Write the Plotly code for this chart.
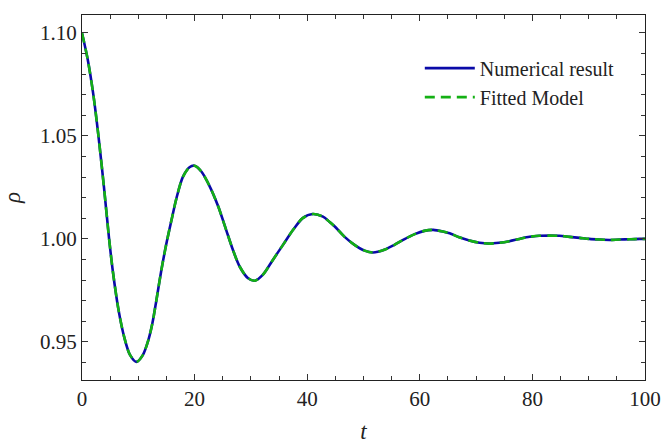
import plotly.graph_objects as go

# time values
t_vals = [0, 1.0, 2.0, 2.9, 3.9, 4.8, 5.5, 6.5, 7.5, 8.5, 9.65,
          10.8, 11.8, 12.5, 13.2, 14.1, 15.0, 15.9, 16.8, 17.9, 19.1, 20.0, 21.2, 22.7,
          24.2, 25.6, 26.8, 28.0, 29.5, 30.7, 32.1, 33.9, 35.7, 37.5, 39.2, 41.0, 42.8,
          44.0, 44.9, 46.6, 48.4, 50.2, 51.7, 53.7, 55.5, 57.3, 59.1, 60.8, 62.4, 64.1,
          65.3, 67.0, 68.8, 70.6, 72.4, 74.1, 75.9, 77.7, 79.5, 81.2, 83.0, 84.8, 86.6,
          88.4, 90.1, 91.9, 93.7, 95.5, 97.3, 99.1, 100]

rho_numerical = [1.1000, 1.0873, 1.0703, 1.0505, 1.0251, 1.0004, 0.9838, 0.9653, 0.9523, 0.9438, 0.9403,
                 0.9436, 0.9510, 0.9590, 0.9700, 0.9849, 0.9979, 1.0092, 1.0200, 1.0300, 1.0348,
                 1.0355, 1.0327, 1.0254, 1.0157, 1.0044, 0.9947, 0.9866, 0.9809, 0.9797, 0.9825,
                 0.9898, 0.9971, 1.0044, 1.0101, 1.0121, 1.0108, 1.0082, 1.0060, 1.0011, 0.9971,
                 0.9943, 0.9934, 0.9947, 0.9971, 0.9999, 1.0023, 1.0039, 1.0044, 1.0036, 1.0027,
                 1.0008, 0.9992, 0.9981, 0.9977, 0.9981, 0.9989, 1.0000, 1.0010, 1.0015, 1.0016,
                 1.0015, 1.0010, 1.0005, 1.0000, 0.9997, 0.9995, 0.9997, 0.9998, 1.0000, 1.0000]

rho_fitted = list(rho_numerical)

x_ticks = [0, 20, 40, 60, 80, 100]
y_ticks = [0.95, 1.00, 1.05, 1.10]
y_tick_labels = ["0.95", "1.00", "1.05", "1.10"]

FONT = "Liberation Serif"
BLUE = "#0a0aa8"
GREEN = "#14b014"

fig = go.Figure()
fig.add_trace(go.Scatter(x=t_vals, y=rho_numerical, mode="lines", name="Numerical result",
                         line=dict(color=BLUE, width=2.6, shape="spline", smoothing=0.8)))
fig.add_trace(go.Scatter(x=t_vals, y=rho_fitted, mode="lines", name="Fitted Model",
                         line=dict(color=GREEN, width=2.6, dash="10px,6px", shape="spline", smoothing=0.8)))

axis_common = dict(showline=True, linecolor="#222222", linewidth=1.2, mirror="allticks",
                   ticks="inside", ticklen=6, tickwidth=1, tickcolor="#333333",
                   showgrid=False, zeroline=False, automargin=False,
                   tickfont=dict(family=FONT, size=21, color="#222222"))

fig.update_xaxes(range=[0, 100], tickvals=x_ticks, **axis_common,
                 minor=dict(dtick=5, ticks="inside", ticklen=3.5, tickcolor="#333333", showgrid=False),
                 title=dict(text="<i>t</i>", font=dict(family=FONT, size=23, color="#222222"), standoff=19))
fig.update_yaxes(range=[0.9315, 1.1087], tickvals=y_ticks, ticktext=y_tick_labels, **axis_common,
                 minor=dict(dtick=0.01, tick0=0.9, ticks="inside", ticklen=3.5, tickcolor="#333333", showgrid=False),
                 title=dict(text="<i>ρ</i>", font=dict(family=FONT, size=23, color="#222222"), standoff=14))

fig.update_layout(
    width=661, height=444,
    margin=dict(l=82, r=16, t=15, b=64),
    plot_bgcolor="white", paper_bgcolor="white",
    font=dict(family=FONT, size=21, color="#222222"),
    legend=dict(x=0.600, y=0.908, xanchor="left", yanchor="top", bgcolor="rgba(0,0,0,0)",
                font=dict(family=FONT, size=20, color="#222222"), itemwidth=50),
    showlegend=True,
)

fig.write_html("out.html",
               config={"displayModeBar": False},
               post_script="document.body.style.margin='0';document.body.style.overflow='hidden';")
